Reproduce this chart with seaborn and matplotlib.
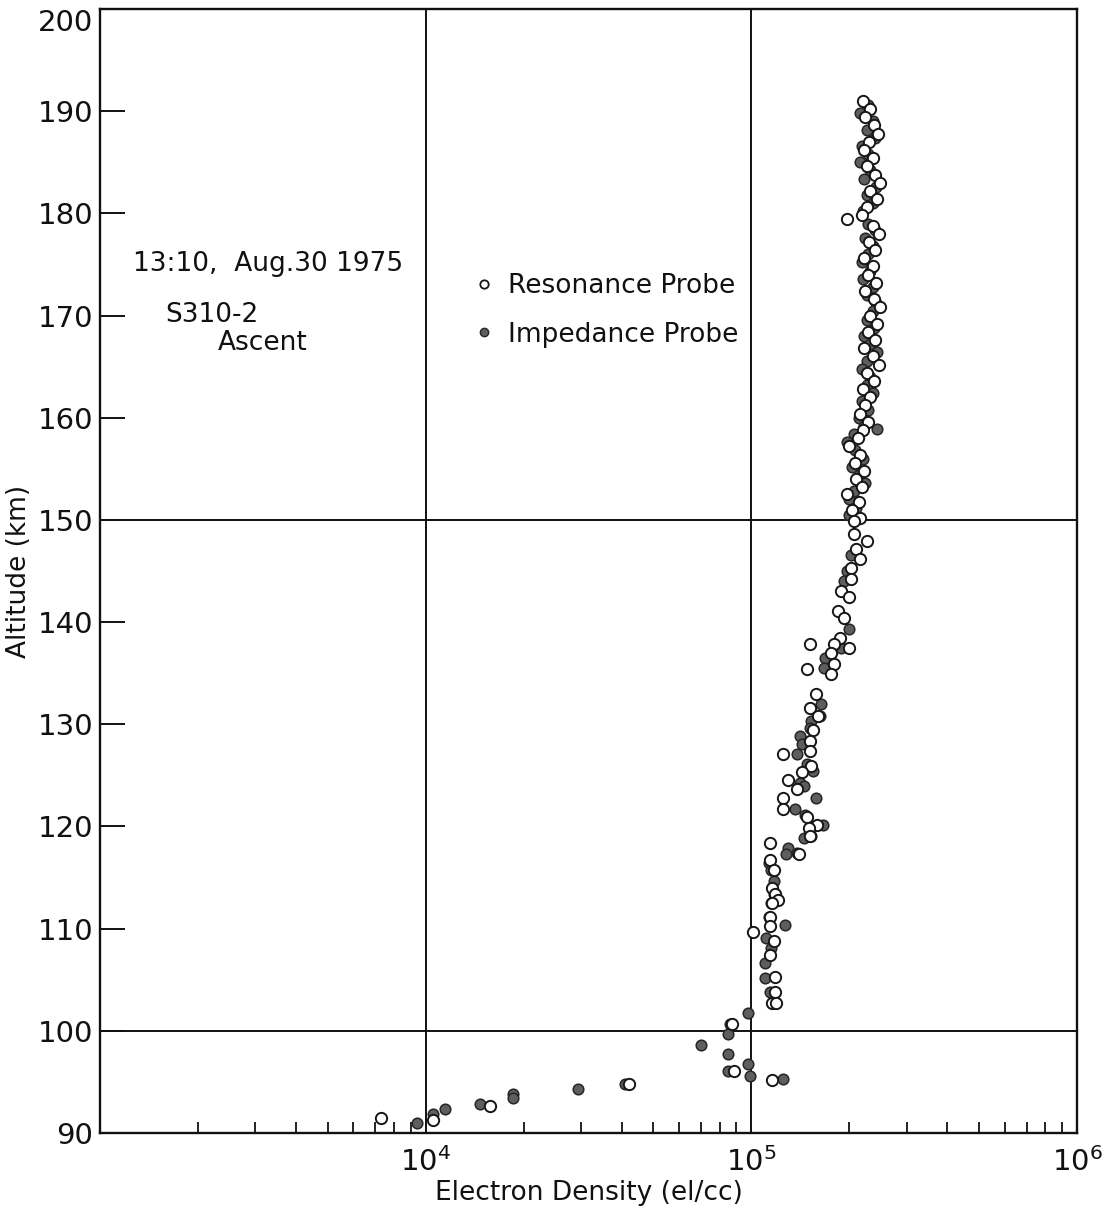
import matplotlib
matplotlib.use("Agg")
import matplotlib.pyplot as plt
import seaborn as sns
import numpy as np
import pandas as pd
from matplotlib.lines import Line2D
from matplotlib.ticker import LogLocator, NullFormatter

# electron density in units of 10^3 el/cc, altitude in km
res_alt = [191.0, 190.2, 189.4, 188.6, 187.8, 187.0, 186.2, 185.4, 184.6, 183.8,
           183.0, 182.2, 181.4, 180.6, 179.8, 179.4, 178.8, 178.0, 177.2, 176.4,
           175.6, 174.8, 174.0, 173.2, 172.4, 171.6, 170.8, 170.0, 169.2, 168.4,
           167.6, 166.8, 166.0, 165.2, 164.4, 163.6, 162.8, 162.0, 161.2, 160.4,
           159.6, 158.8, 158.0, 157.2, 156.4, 155.6, 154.8, 154.0, 153.2, 152.5,
           151.8, 151.0, 150.2, 149.9, 148.6, 147.9, 147.2, 146.2, 145.3, 144.2,
           143.0, 142.5, 141.1, 140.4, 138.4, 137.9, 137.9, 137.5, 137.0, 135.9,
           135.4, 134.9, 133.0, 131.6, 130.8, 129.4, 128.4, 127.4, 127.1, 125.9,
           125.3, 124.5, 123.7, 122.8, 121.7, 120.9, 120.1, 119.8, 119.1, 118.4,
           117.3, 116.7, 115.7, 114.0, 113.4, 112.8, 112.5, 111.1, 110.3, 109.7,
           108.8, 107.4, 105.3, 103.8, 102.7, 102.7, 100.7, 96.1, 95.2, 94.8,
           92.6, 91.3, 91.5]
res_dens = [220, 232, 224, 238, 245, 230, 222, 236, 226, 240,
            248, 232, 244, 226, 218, 197, 236, 246, 230, 240,
            222, 236, 228, 242, 224, 238, 248, 232, 244, 228,
            240, 222, 236, 246, 226, 238, 220, 232, 224, 216,
            228, 220, 212, 200, 216, 208, 222, 210, 218, 197,
            214, 204, 216, 206, 207, 226, 210, 215, 203, 203,
            189, 199, 185, 193, 187, 180, 151, 200, 176, 179,
            148, 176, 158, 151, 160, 155, 151, 151, 125, 153,
            143, 130, 138, 125, 125, 148, 159, 150, 151, 114,
            140, 114, 117, 116, 118, 121, 116, 114, 114, 101,
            117, 114, 118, 118, 116, 119, 87, 88.5, 116, 42,
            15.8, 10.5, 7.3]

imp_alt = [190.6, 189.8, 189.0, 188.2, 187.4, 186.6, 185.8, 185.0, 184.2, 183.4,
           182.6, 181.8, 181.0, 180.2, 179.0, 178.4, 177.6, 176.8, 176.0, 175.2,
           174.4, 173.6, 172.8, 172.0, 171.2, 170.4, 169.6, 168.8, 168.0, 167.2,
           166.4, 165.6, 164.8, 164.0, 163.2, 162.4, 161.6, 160.8, 160.0, 159.2,
           158.9, 158.4, 157.6, 156.8, 156.0, 155.2, 154.4, 153.6, 152.8, 152.0,
           151.2, 150.5, 146.6, 145.0, 144.0, 139.3, 137.5, 136.5, 135.5, 132.0,
           130.8, 130.3, 129.6, 128.9, 128.1, 127.1, 126.1, 125.4, 124.3, 124.0,
           122.8, 121.7, 121.1, 120.1, 119.1, 118.9, 117.9, 117.4, 117.3, 116.4,
           115.7, 114.7, 113.4, 112.8, 112.5, 111.1, 110.4, 109.1, 108.1, 106.6,
           105.2, 103.8, 101.7, 100.7, 99.7, 98.6, 97.7, 96.8, 96.1, 95.6,
           95.3, 94.8, 94.3, 93.8, 93.4, 92.8, 92.3, 91.9, 91.0]
imp_dens = [228, 216, 236, 226, 240, 218, 228, 216, 232, 222,
            242, 226, 236, 220, 228, 240, 224, 236, 228, 218,
            232, 220, 236, 226, 242, 236, 226, 238, 222, 232,
            244, 226, 218, 232, 226, 236, 218, 228, 214, 222,
            243, 206, 196, 208, 220, 204, 214, 224, 206, 200,
            210, 200, 203, 196, 193, 199, 189, 168, 167, 164,
            162, 153, 151, 141, 143, 138, 148, 155, 141, 145,
            158, 136, 146, 166, 152, 145, 130, 138, 128, 113,
            115, 117, 117, 119, 115, 113, 127, 111, 115, 110,
            110, 114, 98, 86, 85, 70, 85, 98, 85, 99,
            125, 41, 29.4, 18.5, 18.5, 14.7, 11.5, 10.5, 9.4]

x_ticks = [1e4, 1e5, 1e6]
y_ticks = list(range(90, 201, 10))
grid_y = [100, 150]
grid_x = [1e4, 1e5]

res = pd.DataFrame({"altitude": res_alt, "density": np.array(res_dens) * 1e3})
imp = pd.DataFrame({"altitude": imp_alt, "density": np.array(imp_dens) * 1e3})

ink = "#111111"
sns.set_theme(style="white")
plt.rcParams["font.family"] = ["DejaVu Sans"]
plt.rcParams["text.color"] = ink
plt.rcParams["axes.labelcolor"] = ink

fig = plt.figure(figsize=(11.06, 12.09), dpi=100)
ax = fig.add_axes([100 / 1106, 76 / 1209, 977 / 1106, 1124 / 1209])

for v in grid_y:
    ax.axhline(v, color=ink, lw=1.4, zorder=1)
for v in grid_x:
    ax.axvline(v, color=ink, lw=1.4, zorder=1)

sns.scatterplot(data=imp, x="density", y="altitude", color="#5e5e5e",
                edgecolor="#262626", linewidth=1.1, s=58, ax=ax, zorder=3)
sns.scatterplot(data=res, x="density", y="altitude", color="white",
                edgecolor="#161616", linewidth=1.4, s=66, ax=ax, zorder=4)

ax.set_xscale("log")
ax.set_xlim(1e3, 1e6)
ax.set_ylim(90, 200)
ax.set_yticks(y_ticks)
ax.set_xticks(x_ticks)
ax.xaxis.set_minor_locator(LogLocator(base=10, subs=range(2, 10)))
ax.xaxis.set_minor_formatter(NullFormatter())

ax.tick_params(axis="y", direction="in", length=18, width=1.4, labelsize=21,
               pad=5, colors=ink, left=True)
ax.tick_params(axis="x", which="major", length=0, labelsize=21, pad=10,
               colors=ink, bottom=True)
ax.tick_params(axis="x", which="minor", direction="in", length=8, width=1.3,
               bottom=True, colors=ink)

fig.canvas.draw()
ax.get_yticklabels()[-1].set_va("top")

for sp in ax.spines.values():
    sp.set_color(ink)
    sp.set_linewidth(1.7)

ax.set_xlabel("Electron Density (el/cc)", fontsize=19, labelpad=2)
ax.set_ylabel("Altitude (km)", fontsize=19, labelpad=4)

ax.text(0.034, 0.7735, "13:10,  Aug.30 1975", transform=ax.transAxes,
        fontsize=19, va="center", ha="left")
ax.text(0.0665, 0.728, "S310-2", transform=ax.transAxes,
        fontsize=19, va="center", ha="left")
ax.text(0.121, 0.7025, "Ascent", transform=ax.transAxes,
        fontsize=19, va="center", ha="left")

handles = [
    Line2D([], [], ls="", marker="o", ms=6, mfc="white", mec="#161616", mew=1.3,
           label="Resonance Probe"),
    Line2D([], [], ls="", marker="o", ms=6, mfc="#5e5e5e", mec="#262626", mew=1.0,
           label="Impedance Probe"),
]
ax.legend(handles=handles, loc="upper left", bbox_to_anchor=(0.382, 0.765),
          frameon=False, fontsize=19, handlelength=0.8, handletextpad=0.5,
          labelspacing=0.85, borderpad=0, borderaxespad=0)

fig.savefig("out.png", dpi=100)
